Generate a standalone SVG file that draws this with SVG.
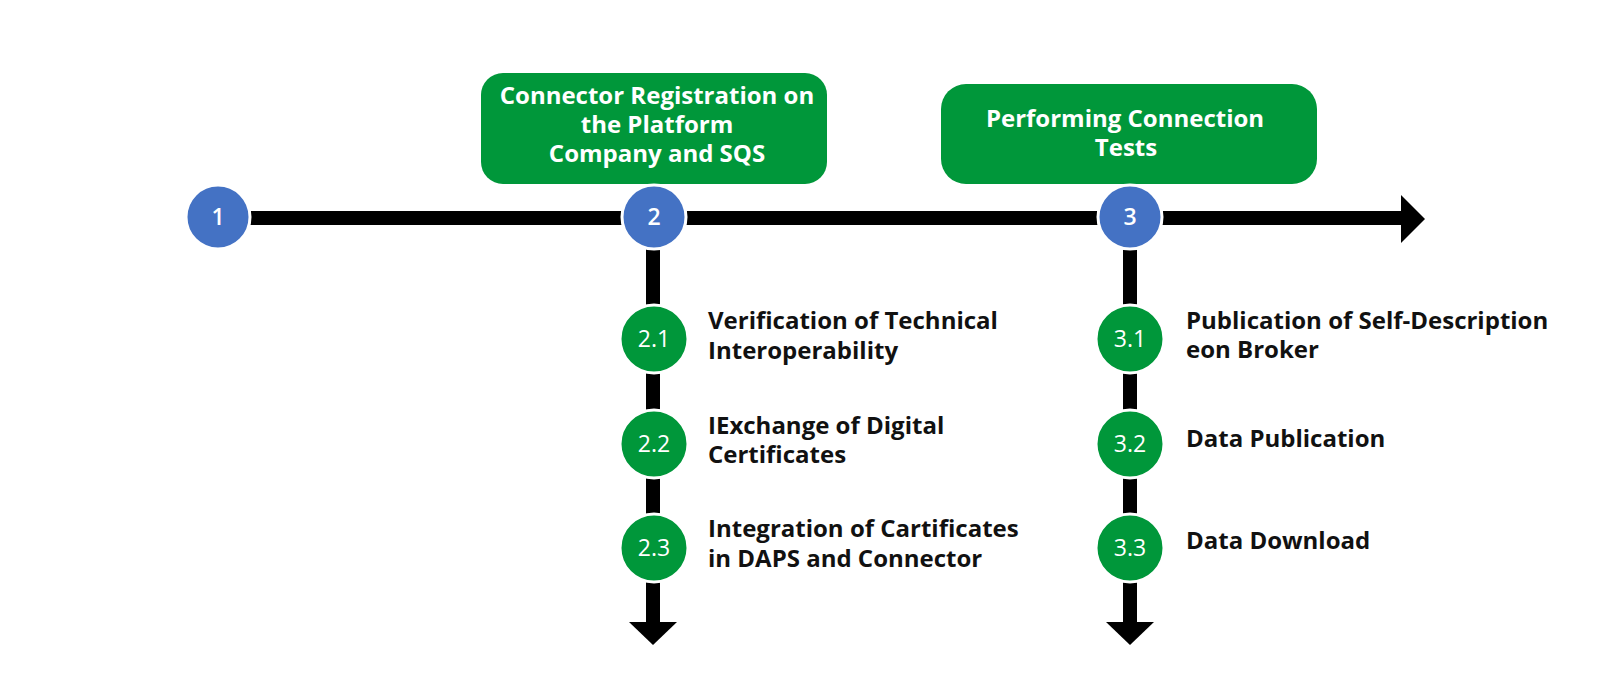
<svg xmlns="http://www.w3.org/2000/svg" width="1602" height="699" viewBox="0 0 1602 699">
<style>
.bar{stroke:#000;stroke-width:14;fill:none}
.head{fill:#000}
.box{fill:#00973A}
.blue{fill:#4472C4;stroke:#fff;stroke-width:3}
.green{fill:#00973A;stroke:#fff;stroke-width:3}
.num{font-family:"Open Sans","Liberation Sans",sans-serif;font-size:23px;fill:#fff;text-anchor:middle}
.numb{font-family:"Open Sans","Liberation Sans",sans-serif;font-size:23px;font-weight:600;fill:#fff;text-anchor:middle}
.hd{font-family:"Open Sans","Liberation Sans",sans-serif;font-size:24px;font-weight:bold;fill:#fff;text-anchor:middle}
.lbl{font-family:"Open Sans","Liberation Sans",sans-serif;font-size:24px;font-weight:bold;fill:#111}
</style>
<rect width="1602" height="699" fill="#fff"/>
<g id="connectors">
<line class="bar" x1="218" y1="218" x2="1403" y2="218"/>
<polygon class="head" points="1401,195 1425,219 1401,243"/>
<line class="bar" x1="653" y1="218" x2="653" y2="624"/>
<polygon class="head" points="629,622 677,622 653,645"/>
<line class="bar" x1="1130" y1="218" x2="1130" y2="624"/>
<polygon class="head" points="1106,622 1154,622 1130,645"/>
</g>
<g id="box-registration">
<rect class="box" x="481" y="73" width="346" height="111" rx="22"/>
<text class="hd" x="657" y="104">Connector Registration on</text>
<text class="hd" x="657" y="133">the Platform </text>
<text class="hd" x="657" y="162"> Company and SQS</text>
</g>
<g id="box-tests">
<rect class="box" x="941" y="84" width="376" height="100" rx="25"/>
<text class="hd" x="1125" y="127">Performing Connection</text>
<text class="hd" x="1126" y="156">Tests</text>
</g>
<g id="n1"><circle class="blue" cx="218" cy="217" r="32"/><text class="numb" x="218" y="225">1</text></g>
<g id="n2"><circle class="blue" cx="654" cy="217" r="32"/><text class="numb" x="654" y="225">2</text></g>
<g id="n3"><circle class="blue" cx="1130" cy="217" r="32"/><text class="numb" x="1130" y="225">3</text></g>
<g id="n21"><circle class="green" cx="654" cy="339" r="34"/><text class="num" x="654" y="347">2.1</text>
<text class="lbl" x="708" y="329">Verification of Technical</text><text class="lbl" x="708" y="359">Interoperability</text></g>
<g id="n22"><circle class="green" cx="654" cy="444" r="34"/><text class="num" x="654" y="452">2.2</text>
<text class="lbl" x="708" y="434">IExchange of Digital</text><text class="lbl" x="708" y="463">Certificates</text></g>
<g id="n23"><circle class="green" cx="654" cy="548" r="34"/><text class="num" x="654" y="556">2.3</text>
<text class="lbl" x="708" y="537">Integration of Cartificates</text><text class="lbl" x="708" y="567">in DAPS and Connector</text></g>
<g id="n31"><circle class="green" cx="1130" cy="339" r="34"/><text class="num" x="1130" y="347">3.1</text>
<text class="lbl" x="1186" y="329">Publication of Self-Description</text><text class="lbl" x="1186" y="358">eon Broker</text></g>
<g id="n32"><circle class="green" cx="1130" cy="444" r="34"/><text class="num" x="1130" y="452">3.2</text>
<text class="lbl" x="1186" y="447">Data Publication</text></g>
<g id="n33"><circle class="green" cx="1130" cy="548" r="34"/><text class="num" x="1130" y="556">3.3</text>
<text class="lbl" x="1186" y="549">Data Download</text></g>
</svg>
